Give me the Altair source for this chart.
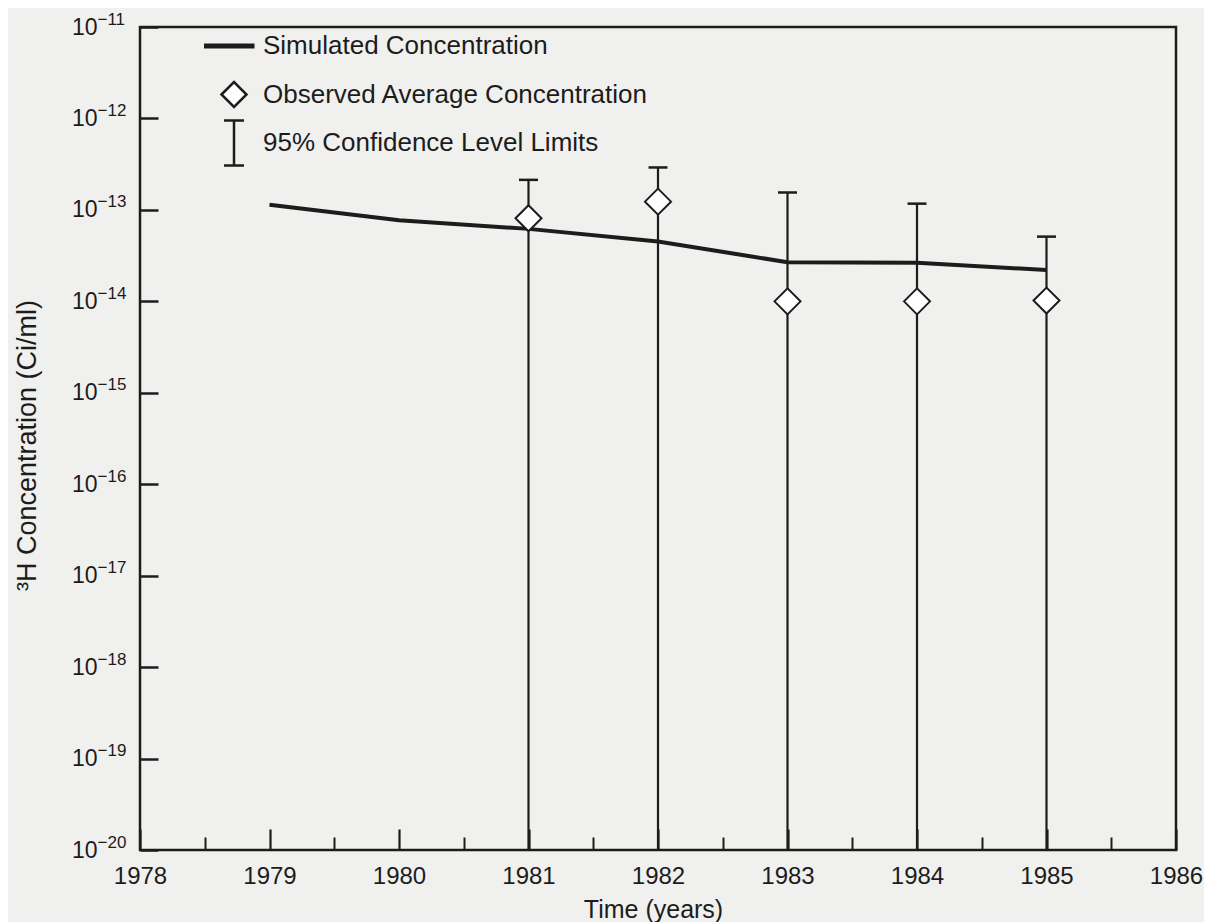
import altair as alt
import pandas as pd

# ---- data ----
sim_years = [1979, 1980, 1981, 1982, 1983, 1984, 1985]
sim_conc = [1.14e-13, 7.7e-14, 6.2e-14, 4.5e-14, 2.68e-14, 2.64e-14, 2.2e-14]

obs_years = [1981, 1982, 1983, 1984, 1985]
obs_conc = [8.1e-14, 1.23e-13, 1.0e-14, 1.0e-14, 1.02e-14]
ci_upper = [2.13e-13, 2.91e-13, 1.55e-13, 1.17e-13, 5.1e-14]
ci_lower = [1e-20, 1e-20, 1e-20, 1e-20, 1e-20]

series_names = ["Simulated Concentration",
                "Observed Average Concentration",
                "95% Confidence Level Limits"]

x_major = [1978, 1979, 1980, 1981, 1982, 1983, 1984, 1985, 1986]
x_minor = [1978.5, 1979.5, 1980.5, 1981.5, 1982.5, 1983.5, 1984.5, 1985.5]
y_ticks = [1e-11, 1e-12, 1e-13, 1e-14, 1e-15, 1e-16, 1e-17, 1e-18, 1e-19, 1e-20]
y_tick_base = "10"
y_tick_exponents = ["\u221211", "\u221212", "\u221213", "\u221214", "\u221215",
                    "\u221216", "\u221217", "\u221218", "\u221219", "\u221220"]

sim_df = pd.DataFrame({"year": sim_years, "conc": sim_conc})
obs_df = pd.DataFrame({"year": obs_years, "conc": obs_conc,
                       "hi": ci_upper, "lo": ci_lower,
                       "series": [series_names[1]] * len(obs_years)})

W, H = 1036, 823
INK = "#1c1c1c"
FONT = "Liberation Sans"

xs = alt.Scale(domain=[1978, 1986], nice=False, zero=False)
ys = alt.Scale(type="log", domain=[1e-20, 1e-11], nice=False)

base_expr = "'%s'" % y_tick_base
exp_expr = "[" + ",".join("'%s'" % l for l in y_tick_exponents) + "][round(-log(datum.value)/LN10) - 11]"

line = alt.Chart(sim_df).mark_line(color=INK, strokeWidth=4).encode(
    x=alt.X("year:Q", scale=xs, axis=alt.Axis(
        orient="bottom", values=x_major, format="d", ticks=False, domain=False,
        grid=False, labelFontSize=24, labelPadding=14, labelFlush=False,
        labelOverlap=False, title="Time (years)", titleFontSize=25,
        titleX=513, titleY=47)),
    y=alt.Y("conc:Q", scale=ys, axis=alt.Axis(
        orient="left", values=y_ticks, labelExpr=base_expr, ticks=False,
        domain=False, grid=False, labelFontSize=23, labelPadding=43,
        labelFlush=False, labelOverlap=False,
        title="³H Concentration (Ci/ml)", titleFontSize=27,
        titleX=-99, titleY=418)),
)

rules = alt.Chart(obs_df).mark_rule(color=INK, strokeWidth=2.2).encode(
    x=alt.X("year:Q", scale=xs, axis=alt.Axis(
        orient="top", offset=-H, values=x_major, labels=False, domain=False,
        grid=False, tickSize=21, tickWidth=2.2, tickColor=INK, title=None)),
    y=alt.Y("hi:Q", scale=ys, axis=alt.Axis(
        orient="right", offset=-W, values=y_ticks, labels=False, domain=False,
        grid=False, tickSize=18, tickWidth=2.5, tickColor=INK, title=None)),
    y2="lo:Q",
)

caps = alt.Chart(obs_df).mark_tick(color=INK, orient="horizontal", size=19,
                                   thickness=2.5, opacity=1).encode(
    x=alt.X("year:Q", scale=xs, axis=alt.Axis(
        orient="top", offset=-H, values=x_minor, labels=False, domain=False,
        grid=False, tickSize=13, tickWidth=2.0, tickColor=INK, title=None)),
    y=alt.Y("hi:Q", scale=ys, axis=None),
)

# legend glyphs (all padded to the same height so the rows are evenly spaced)
line_path = "M0,-1.8M0,1.8M-2.3,-0.1H1.54V0.1H-2.3Z"
diamond_path = "M0,-1.8M0,1.8M-1,0L0,-1L1,0L0,1Z"
ibar_path = "M0,-1.8V1.8M-0.8,-1.8H0.8M-0.8,1.8H0.8"

leg = alt.Legend(title=None, orient="none", legendX=80, legendY=5,
                 padding=0, symbolSize=625, symbolStrokeWidth=2.5,
                 symbolOpacity=1, labelFontSize=26, labelFont=FONT,
                 labelColor=INK, labelOffset=15, rowPadding=-7.5,
                 labelLimit=700)

diamonds = alt.Chart(obs_df).mark_point(size=676, fill="white", strokeWidth=2,
                                        opacity=1, filled=False).encode(
    x=alt.X("year:Q", scale=xs, axis=None),
    y=alt.Y("conc:Q", scale=ys, axis=alt.Axis(
        orient="left", values=y_ticks, labelExpr=exp_expr, ticks=False,
        domain=False, grid=False, labelAlign="left", labelPadding=43,
        labelFontSize=17, labelOffset=-8, labelFlush=False,
        labelOverlap=False, title=None)),
    color=alt.Color("series:N",
                    scale=alt.Scale(domain=series_names, range=[INK, INK, INK]),
                    legend=leg),
    shape=alt.Shape("series:N",
                    scale=alt.Scale(domain=series_names,
                                    range=[line_path, diamond_path, ibar_path]),
                    legend=leg),
)

chart = alt.layer(line, rules, caps, diamonds).resolve_axis(
    x="independent", y="independent"
).properties(
    width=W, height=H,
    padding={"left": 132, "top": 19, "right": 28, "bottom": 80},
    autosize=alt.AutoSizeParams(type="none"),
    background="#f0f0ee",
).configure_view(
    stroke=INK, strokeWidth=2.5
).configure_axis(
    labelFont=FONT, titleFont=FONT, labelColor=INK, titleColor=INK,
    titleFontWeight="normal"
)

chart.save("out.html", embed_options={"renderer": "svg", "actions": False})
